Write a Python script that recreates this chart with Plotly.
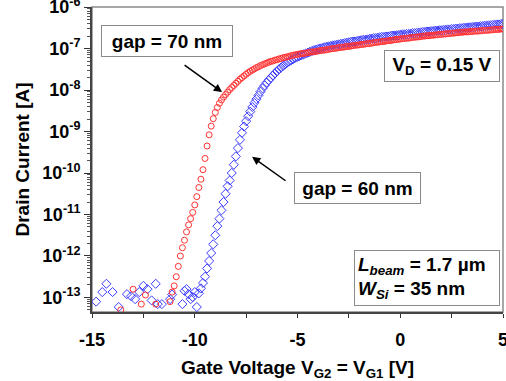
import plotly.graph_objects as go

# ---- data (log10 of drain current in A) ----
vg_sweep = [
    -11.2, -11.1, -11.0, -10.9, -10.8, -10.7, -10.6, -10.5, -10.4, -10.3,
    -10.2, -10.1, -10.0, -9.9, -9.8, -9.7, -9.6, -9.5, -9.4, -9.3,
    -9.2, -9.1, -9.0, -8.9, -8.8, -8.7, -8.6, -8.5, -8.4, -8.3,
    -8.2, -8.1, -8.0, -7.9, -7.8, -7.7, -7.6, -7.5, -7.4, -7.3,
    -7.2, -7.1, -7.0, -6.9, -6.8, -6.7, -6.6, -6.5, -6.4, -6.3,
    -6.2, -6.1, -6.0, -5.9, -5.8, -5.7, -5.6, -5.5, -5.4, -5.3,
    -5.2, -5.1, -5.0, -4.9, -4.8, -4.7, -4.6, -4.5, -4.4, -4.3,
    -4.2, -4.1, -4.0, -3.9, -3.8, -3.7, -3.6, -3.5, -3.4, -3.3,
    -3.2, -3.1, -3.0, -2.9, -2.8, -2.7, -2.6, -2.5, -2.4, -2.3,
    -2.2, -2.1, -2.0, -1.9, -1.8, -1.7, -1.6, -1.5, -1.4, -1.3,
    -1.2, -1.1, -1.0, -0.9, -0.8, -0.7, -0.6, -0.5, -0.4, -0.3,
    -0.2, -0.1, 0.0, 0.1, 0.2, 0.3, 0.4, 0.5, 0.6, 0.7,
    0.8, 0.9, 1.0, 1.1, 1.2, 1.3, 1.4, 1.5, 1.6, 1.7,
    1.8, 1.9, 2.0, 2.1, 2.2, 2.3, 2.4, 2.5, 2.6, 2.7,
    2.8, 2.9, 3.0, 3.1, 3.2, 3.3, 3.4, 3.5, 3.6, 3.7,
    3.8, 3.9, 4.0, 4.1, 4.2, 4.3, 4.4, 4.5, 4.6, 4.7,
    4.8, 4.9, 5.0,
]

red_floor_v = [-13.6, -13.0, -12.6, -12.4, -11.9]
red_floor_log = [-13.30, -12.80, -13.16, -12.94, -13.16]
red_log = [
    -13.10, -12.87, -12.72, -12.50, -12.25, -12.00, -11.80, -11.62, -11.42, -11.25,
    -11.10, -10.95, -10.77, -10.57, -10.35, -10.15, -9.92, -9.65, -9.35, -9.08,
    -8.87, -8.69, -8.54, -8.42, -8.32, -8.24, -8.17, -8.11, -8.05, -7.99,
    -7.94, -7.89, -7.84, -7.79, -7.74, -7.70, -7.66, -7.62, -7.58, -7.55,
    -7.52, -7.49, -7.46, -7.44, -7.41, -7.39, -7.37, -7.35, -7.33, -7.31,
    -7.30, -7.28, -7.27, -7.25, -7.24, -7.22, -7.21, -7.20, -7.19, -7.17,
    -7.16, -7.15, -7.14, -7.13, -7.12, -7.12, -7.11, -7.10, -7.09, -7.08,
    -7.08, -7.07, -7.06, -7.05, -7.04, -7.04, -7.03, -7.02, -7.01, -7.00,
    -7.00, -6.99, -6.98, -6.97, -6.97, -6.96, -6.95, -6.95, -6.94, -6.93,
    -6.92, -6.92, -6.91, -6.90, -6.90, -6.89, -6.88, -6.88, -6.87, -6.86,
    -6.85, -6.85, -6.84, -6.83, -6.83, -6.82, -6.81, -6.81, -6.80, -6.79,
    -6.78, -6.78, -6.77, -6.76, -6.76, -6.75, -6.75, -6.74, -6.73, -6.73,
    -6.72, -6.72, -6.71, -6.70, -6.70, -6.69, -6.69, -6.68, -6.68, -6.67,
    -6.67, -6.66, -6.66, -6.65, -6.65, -6.64, -6.64, -6.63, -6.63, -6.62,
    -6.62, -6.61, -6.61, -6.60, -6.60, -6.60, -6.59, -6.59, -6.58, -6.58,
    -6.58, -6.57, -6.57, -6.56, -6.56, -6.56, -6.55, -6.55, -6.54, -6.54,
    -6.54, -6.53, -6.53,
]

blue_floor_v = [-14.8, -14.5, -14.3, -14.0, -13.7, -13.3, -13.1, -12.9, -12.7,
                -12.5, -12.3, -12.1, -11.9, -11.8, -11.6]
blue_floor_log = [-13.10, -12.87, -12.67, -12.87, -13.23, -12.92, -12.97, -13.04,
                  -12.87, -12.72, -12.80, -13.07, -12.67, -13.16, -13.16]
blue_log = [
    -13.04, -12.93, None, None, None, None, -13.16, -12.84, -12.80, -12.92,
    -13.04, -12.99, -12.87, -13.23, -12.90, -12.78, -12.65, -12.50, -12.30, -12.12,
    -11.93, -11.72, -11.50, -11.28, -11.10, -10.90, -10.70, -10.50, -10.32, -10.18,
    -10.00, -9.80, -9.60, -9.40, -9.20, -9.03, -8.88, -8.75, -8.63, -8.52,
    -8.41, -8.31, -8.22, -8.13, -8.04, -7.96, -7.89, -7.82, -7.76, -7.71,
    -7.65, -7.60, -7.55, -7.50, -7.46, -7.42, -7.38, -7.34, -7.31, -7.28,
    -7.25, -7.22, -7.20, -7.18, -7.16, -7.14, -7.12, -7.10, -7.08, -7.06,
    -7.04, -7.03, -7.01, -7.00, -6.99, -6.97, -6.96, -6.95, -6.94, -6.93,
    -6.92, -6.91, -6.90, -6.89, -6.88, -6.87, -6.86, -6.85, -6.84, -6.83,
    -6.83, -6.82, -6.81, -6.80, -6.79, -6.79, -6.78, -6.77, -6.76, -6.75,
    -6.75, -6.74, -6.73, -6.72, -6.72, -6.71, -6.71, -6.70, -6.69, -6.69,
    -6.68, -6.68, -6.67, -6.66, -6.66, -6.65, -6.65, -6.64, -6.63, -6.63,
    -6.62, -6.62, -6.61, -6.60, -6.60, -6.59, -6.59, -6.58, -6.58, -6.57,
    -6.57, -6.56, -6.56, -6.55, -6.55, -6.54, -6.54, -6.53, -6.53, -6.52,
    -6.52, -6.51, -6.51, -6.50, -6.50, -6.49, -6.49, -6.48, -6.48, -6.47,
    -6.47, -6.46, -6.46, -6.45, -6.45, -6.44, -6.44, -6.43, -6.43, -6.42,
    -6.42, -6.41, -6.41,
]

y_tick_exps = [-13, -12, -11, -10, -9, -8, -7, -6]
x_ticks = [-15, -10, -5, 0, 5]


def to_amp(logs):
    return [None if v is None else 10 ** v for v in logs]


FONT = "Liberation Sans, Arial, sans-serif"

red_x = red_floor_v + vg_sweep
red_y = to_amp(red_floor_log + red_log)
blue_x = blue_floor_v + vg_sweep
blue_y = to_amp(blue_floor_log + blue_log)

fig = go.Figure()
fig.add_trace(go.Scatter(
    x=blue_x, y=blue_y, mode="markers", name="gap = 60 nm",
    marker=dict(symbol="diamond-open", size=7, color="rgb(60,60,255)",
                line=dict(width=1, color="rgb(60,60,255)")),
))
fig.add_trace(go.Scatter(
    x=red_x, y=red_y, mode="markers", name="gap = 70 nm",
    marker=dict(symbol="circle-open", size=6, color="rgb(255,50,50)",
                line=dict(width=1, color="rgb(255,50,50)")),
))

fig.update_layout(
    width=506, height=381,
    margin=dict(l=92, r=3, t=7, b=69, autoexpand=False),
    paper_bgcolor="white", plot_bgcolor="white",
    showlegend=False,
    font=dict(family=FONT, color="black"),
    shapes=[dict(type="rect", xref="paper", yref="paper", x0=0, y0=0, x1=1, y1=1,
                 line=dict(color="#8a8a8a", width=1.5), layer="below")],
)

fig.update_xaxes(
    range=[-15, 5], tickvals=x_ticks, ticktext=[f"<b>{v}</b>" for v in x_ticks],
    ticks="outside", ticklen=4, tickwidth=1.2, tickcolor="#333",
    showline=True, linecolor="#444", linewidth=2,
    showgrid=False, zeroline=False, automargin=False,
    minor=dict(dtick=2.5, tick0=-15, ticks="outside", ticklen=4, tickcolor="#333", showgrid=False),
    tickfont=dict(size=18, family=FONT), ticklabelstandoff=6, ticklabeloverflow="allow",
    title=dict(text="<b>Gate Voltage V<sub>G2</sub> = V<sub>G1</sub> [V]</b>",
               font=dict(size=19, family=FONT), standoff=14),
)

fig.update_yaxes(
    type="log", range=[-13.35, -5.999],
    tickvals=[10 ** e for e in y_tick_exps],
    ticktext=[f"<b>10<sup>{e}</sup></b>" for e in y_tick_exps],
    ticks="outside", ticklen=6, tickwidth=1.2, tickcolor="#333",
    showline=True, linecolor="#444", linewidth=2,
    showgrid=False, zeroline=False, automargin=False,
    minor=dict(dtick="D1", ticks="outside", ticklen=3, tickcolor="#555", showgrid=False),
    tickfont=dict(size=18, family=FONT), ticklabeloverflow="allow",
    title=dict(text="<b>Drain Current [A]</b>", font=dict(size=19, family=FONT), standoff=8),
)

box = dict(bordercolor="#8a8a8a", borderwidth=1, bgcolor="white", borderpad=3,
           showarrow=False, xref="paper", yref="paper",
           xanchor="center", yanchor="middle", font=dict(size=19, family=FONT))

fig.add_annotation(text="<b>gap = 70 nm</b>", x=0.1825, y=0.888, width=124, height=24, **box)
fig.add_annotation(text="<b>gap = 60 nm</b>", x=0.646, y=0.408, width=119, height=24, **box)
fig.add_annotation(text="<b>V<sub>D</sub> = 0.15 V</b>", x=0.8516, y=0.806, width=108, height=24, **box)
fig.add_annotation(
    text="<b><i>L<sub>beam</sub></i> = 1.7 µm<br><i>W<sub>Si</sub></i> = 35 nm</b>",
    x=0.815, y=0.112, width=138, height=48, align="left",
    **{k: v for k, v in box.items() if k != "font"}, font=dict(size=19, family=FONT))

# arrows
fig.add_annotation(x=-8.67, y=-8.05, xref="x", yref="y", ax=-39, ay=-28,
                   showarrow=True, arrowhead=2, arrowsize=1.1, arrowwidth=1.5,
                   arrowcolor="black", text="")
fig.add_annotation(x=-7.21, y=-9.61, xref="x", yref="y", ax=35, ay=25,
                   showarrow=True, arrowhead=2, arrowsize=1.1, arrowwidth=1.5,
                   arrowcolor="black", text="")

fig.write_html("out.html", config={"displayModeBar": False},
               post_script="document.body.style.margin='0';")
